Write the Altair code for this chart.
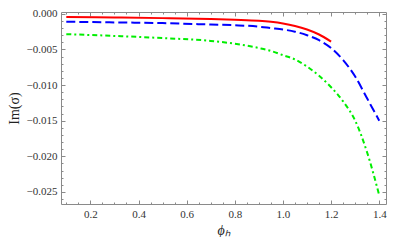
import altair as alt
import pandas as pd

phi_red = [0.1, 0.3, 0.5, 0.7, 0.8, 0.9, 0.95, 1.0, 1.05, 1.1, 1.15, 1.2]
im_red = [-0.00044, -0.00050, -0.00060, -0.00073, -0.00083, -0.00097, -0.00112, -0.00135, -0.0017, -0.0022, -0.0029, -0.0039]

phi_blue = [0.1, 0.3, 0.5, 0.7, 0.8, 0.9, 0.95, 1.0, 1.05, 1.1, 1.15, 1.2, 1.25, 1.3, 1.35, 1.4]
im_blue = [-0.0011, -0.0012, -0.0013, -0.0015, -0.0016, -0.0018, -0.0020, -0.0022, -0.0025, -0.0030, -0.0037, -0.0048, -0.0065, -0.0088, -0.0119, -0.0150]

phi_green = [0.1, 0.3, 0.5, 0.7, 0.8, 0.9, 0.95, 1.0, 1.05, 1.1, 1.15, 1.2, 1.25, 1.3, 1.35, 1.4]
im_green = [-0.00285, -0.0031, -0.0034, -0.0038, -0.0042, -0.0048, -0.0052, -0.0058, -0.0064, -0.0074, -0.0087, -0.0103, -0.0123, -0.0150, -0.0195, -0.0255]

x_major = [0.2, 0.4, 0.6, 0.8, 1.0, 1.2, 1.4]
x_minor = [round(0.1 + 0.05 * i, 2) for i in range(27)]
y_major = [0.0, -0.005, -0.010, -0.015, -0.020, -0.025]
y_minor = [round(-0.001 * i, 3) for i in range(27)]

x_domain = [0.078, 1.428]
y_domain = [-0.0267, 0.00026]

FONT = "Liberation Serif"
TICK = "#8a8a8a"


def frame(x, y):
    return pd.DataFrame({"phi": x, "im": y})


xs = alt.Scale(domain=x_domain, nice=False, zero=False)
ys = alt.Scale(domain=y_domain, nice=False, zero=False)


def axis(orient, values, size, labels=False, fmt=None, title="", **kw):
    args = dict(
        orient=orient, values=values, tickSize=size, offset=-size,
        domain=False, grid=False, ticks=True, tickColor=TICK, tickWidth=1,
        labels=labels, title=title,
    )
    if labels:
        args.update(format=fmt, labelFont=FONT, labelFontSize=11,
                    labelColor="#333333", labelPadding=4)
    args.update(kw)
    return alt.Axis(**args)


red = alt.Chart(frame(phi_red, im_red)).mark_line(
    color="#ff0000", strokeWidth=2, interpolate="monotone"
).encode(
    x=alt.X("phi:Q", scale=xs, axis=axis(
        "bottom", x_major, 4, True, ".1f", "ϕₕ",
        titleFont=FONT, titleFontSize=14, titleFontStyle="italic",
        titleFontWeight="normal", titleColor="#222222", titlePadding=4)),
    y=alt.Y("im:Q", scale=ys, axis=axis(
        "left", y_major, 4, True, ".3f", "Im(σ)",
        titleFont=FONT, titleFontSize=14, titleFontWeight="normal",
        titleColor="#222222", titlePadding=5)),
)

blue = alt.Chart(frame(phi_blue, im_blue)).mark_line(
    color="#0000ff", strokeWidth=2, strokeDash=[9, 4], interpolate="monotone"
).encode(
    x=alt.X("phi:Q", scale=xs, axis=axis("bottom", x_minor, 2)),
    y=alt.Y("im:Q", scale=ys, axis=axis("left", y_minor, 2)),
)

green = alt.Chart(frame(phi_green, im_green)).mark_line(
    color="#00ee00", strokeWidth=2, strokeDash=[5, 3, 2, 3], interpolate="monotone"
).encode(
    x=alt.X("phi:Q", scale=xs, axis=axis("top", x_major, 4)),
    y=alt.Y("im:Q", scale=ys, axis=axis("right", y_major, 4)),
)

ghost = alt.Chart(frame(phi_green, im_green)).mark_line(
    opacity=0
).encode(
    x=alt.X("phi:Q", scale=xs, axis=axis("top", x_minor, 2)),
    y=alt.Y("im:Q", scale=ys, axis=axis("right", y_minor, 2)),
)

chart = alt.layer(red, blue, green, ghost).resolve_axis(
    x="independent", y="independent"
).properties(
    width=325, height=192,
    autosize=alt.AutoSizeParams(type="none"),
    padding={"left": 53, "top": 4, "right": 1, "bottom": 33},
).configure(
    background="white", font=FONT
).configure_axis(
    labelFont=FONT, titleFont=FONT
).configure_view(
    stroke=TICK, strokeWidth=1
)

chart.save("out.html", embed_options={"renderer": "svg", "actions": False})
